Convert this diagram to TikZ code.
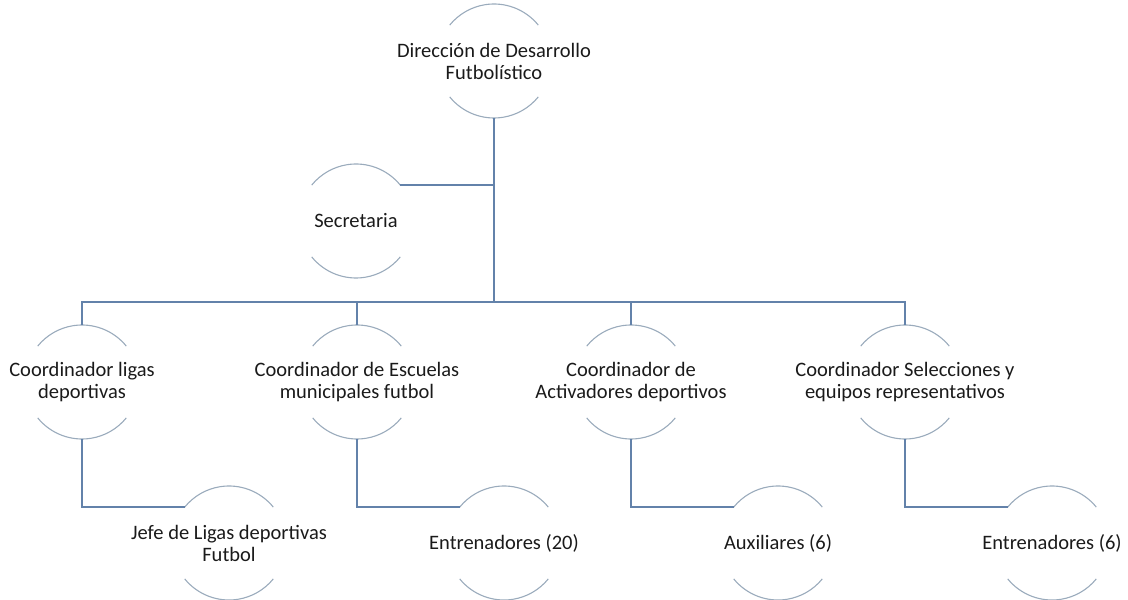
\documentclass[tikz,border=0pt]{standalone}
\usepackage{fontspec}
\setmainfont{Carlito}
\usetikzlibrary{calc}
\definecolor{conn}{HTML}{6382AA}
\definecolor{arcc}{HTML}{9AABBC}
\definecolor{txt}{HTML}{1A1A1A}
\begin{document}
\begin{tikzpicture}[x=1pt,y=1pt,
  lbl/.style={align=center,inner sep=0pt,text=txt,font=\fontsize{20.5}{22}\selectfont},
  arcst/.style={draw=arcc,line width=1.1pt},
  connst/.style={draw=conn,line width=1.3pt}]
\useasboundingbox (0,0) rectangle (1128,600);
\node[lbl] (top) at (494,539) {Dirección de Desarrollo\\Futbolístico};
\node[lbl] (sec) at (356,379) {Secretaria};
\node[lbl] (c1) at (82,218) {Coordinador ligas\\deportivas};
\node[lbl] (c2) at (357,218) {Coordinador de Escuelas\\municipales futbol};
\node[lbl] (c3) at (631,218) {Coordinador de\\Activadores deportivos};
\node[lbl] (c4) at (905,218) {Coordinador Selecciones y\\equipos representativos};
\node[lbl] (j1) at (229,57) {Jefe de Ligas deportivas\\Futbol};
\node[lbl] (j2) at (504,57) {Entrenadores (20)};
\node[lbl] (j3) at (778,57) {Auxiliares (6)};
\node[lbl] (j4) at (1052,57) {Entrenadores (6)};
\foreach \n in {top,sec,c1,c2,c3,c4,j1,j2,j3,j4}{
  \draw[arcst] ($(\n.center)+(39:57)$) arc[start angle=39,end angle=141,radius=57];
  \draw[arcst] ($(\n.center)+(219:57)$) arc[start angle=219,end angle=321,radius=57];
  \coordinate (\n-n) at ($(\n.center)+(0,57)$);
  \coordinate (\n-s) at ($(\n.center)+(0,-57)$);
  \coordinate (\n-w) at ($(\n.center)+(141:57)$);
  \coordinate (\n-e) at ($(\n.center)+(39:57)$);
}
\coordinate (bus) at (494,298);
\draw[connst] (top-s) -- (top-s |- bus);
\draw[connst] (sec-e) -- (sec-e -| top-s);
\draw[connst] (c1-n) -- (c1-n |- bus) -| (c4-n);
\draw[connst] (c2-n) -- (c2-n |- bus);
\draw[connst] (c3-n) -- (c3-n |- bus);
\draw[connst] (c1-s) |- (j1-w);
\draw[connst] (c2-s) |- (j2-w);
\draw[connst] (c3-s) |- (j3-w);
\draw[connst] (c4-s) |- (j4-w);
\end{tikzpicture}
\end{document}
